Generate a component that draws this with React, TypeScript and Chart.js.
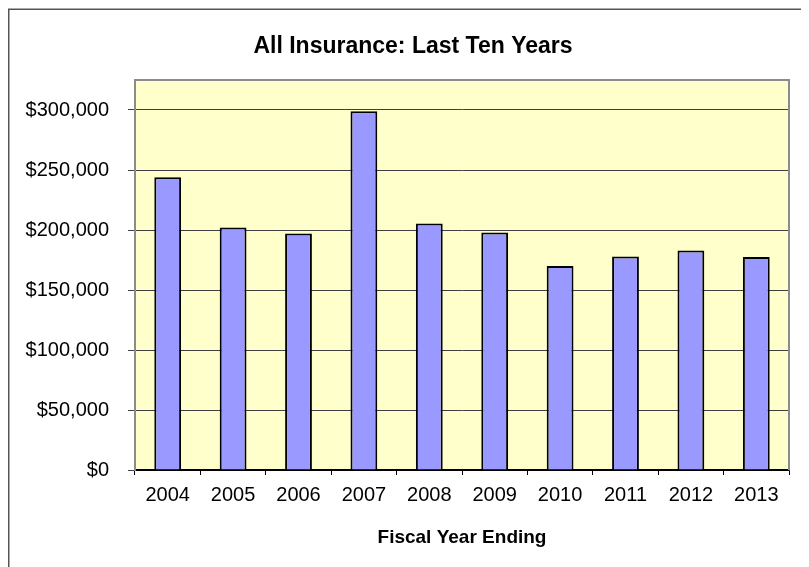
import React, { useEffect, useRef } from "react";
import { Chart, registerables } from "chart.js";

Chart.register(...registerables);

const years = ["2004", "2005", "2006", "2007", "2008", "2009", "2010", "2011", "2012", "2013"];
const premiums = [244000, 202000, 197000, 299000, 205500, 198000, 170000, 178000, 183000, 177500];
const yTickValues = [0, 50000, 100000, 150000, 200000, 250000, 300000];
const yMax = 325000;
const chartTitle = "All Insurance: Last Ten Years";
const xTitle = "Fiscal Year Ending";

const FONT = "'Liberation Sans', Arial, sans-serif";

const framePlugin = {
  id: "frame",
  afterLayout(chart: any) {
    const tb = chart.titleBlock;
    if (tb) {
      tb.left += 14.5;
      tb.right += 14.5;
    }
  },
  beforeDraw(chart: any) {
    const { ctx, chartArea: a } = chart;
    ctx.save();
    ctx.fillStyle = "#FFFFCC";
    ctx.fillRect(a.left, a.top, a.right - a.left, a.bottom - a.top);
    ctx.strokeStyle = "#555555";
    ctx.lineWidth = 1.5;
    ctx.beginPath();
    ctx.moveTo(0.75, chart.height);
    ctx.lineTo(0.75, 1.25);
    ctx.lineTo(chart.width, 1.25);
    ctx.stroke();
    ctx.restore();
  },
  beforeDatasetsDraw(chart: any) {
    const { ctx, chartArea: a } = chart;
    ctx.save();
    ctx.strokeStyle = "#8C8C8C";
    ctx.lineWidth = 2;
    ctx.beginPath();
    ctx.moveTo(a.left, a.top);
    ctx.lineTo(a.right, a.top);
    ctx.lineTo(a.right, a.bottom);
    ctx.stroke();
    ctx.restore();
  },
};

export default function App() {
  const ref = useRef<HTMLCanvasElement | null>(null);

  useEffect(() => {
    if (!ref.current) return;
    const chart = new Chart(ref.current, {
      type: "bar",
      data: {
        labels: years,
        datasets: [
          {
            data: premiums,
            backgroundColor: "#9999FF",
            borderColor: "#000000",
            borderWidth: 2,
            barPercentage: 0.41,
            categoryPercentage: 1,
          },
        ],
      },
      options: {
        animation: false,
        responsive: false,
        devicePixelRatio: 1,
        layout: { padding: { top: 0, left: 0, right: 20, bottom: 14 } },
        plugins: {
          legend: { display: false },
          tooltip: { enabled: false },
          title: {
            display: true,
            text: chartTitle,
            color: "#000",
            font: { family: FONT, size: 23, weight: "bold" },
            padding: { top: 25, bottom: 19.4 },
          },
        },
        scales: {
          x: {
            offset: true,
            grid: {
              display: true,
              drawOnChartArea: false,
              drawTicks: true,
              tickLength: 5,
              color: "#000",
              offset: true,
            },
            border: { display: true, color: "#000", width: 1.5 },
            ticks: {
              color: "#000",
              font: { family: FONT, size: 20 },
              padding: 8,
              maxRotation: 0,
            },
            title: {
              display: true,
              text: xTitle,
              color: "#000",
              font: { family: FONT, size: 19, weight: "bold" },
            },
            afterFit(scale: any) {
              scale.height = 83;
            },
          },
          y: {
            min: 0,
            max: yMax,
            grid: {
              color: (c: any) => (c.tick && c.tick.value === 0 ? "#000" : "#404040"),
              lineWidth: 1,
              drawTicks: true,
              tickLength: 7,
              tickColor: "#404040",
            },
            border: { display: true, color: "#8C8C8C", width: 2 },
            ticks: {
              autoSkip: false,
              color: "#000",
              font: { family: FONT, size: 20 },
              padding: 19,
              callback: (v: any) => "$" + Number(v).toLocaleString("en-US"),
            },
            afterBuildTicks(scale: any) {
              scale.ticks = yTickValues.map((v) => ({ value: v }));
            },
            afterFit(scale: any) {
              scale.width = 127;
            },
          },
        },
      },
      plugins: [framePlugin],
    });
    return () => chart.destroy();
  }, []);

  return (
    <canvas
      ref={ref}
      width={801}
      height={559}
      style={{ display: "block", width: 801, height: 559 }}
    />
  );
}
